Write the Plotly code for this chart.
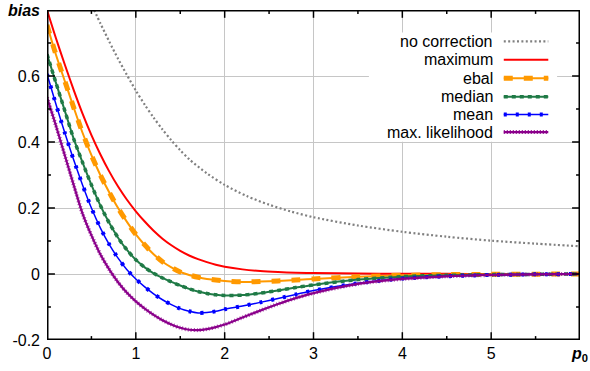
import plotly.graph_objects as go

# ---------------- data ----------------
x_nocorr = [0.53, 0.6, 0.7, 0.8, 0.9, 1.0, 1.1, 1.2, 1.3, 1.4, 1.5, 1.6, 1.8, 2.0, 2.25, 2.5, 2.75, 3.0, 3.5, 4.0, 4.5, 5.0, 5.5, 6.0]
y_nocorr = [0.80, 0.76, 0.705, 0.652, 0.603, 0.556, 0.513, 0.474, 0.438, 0.405, 0.375, 0.348, 0.305, 0.27, 0.236, 0.21, 0.189, 0.172, 0.147, 0.128, 0.113, 0.101, 0.092, 0.084]

x_grid = [0, 0.1, 0.2, 0.3, 0.4, 0.5, 0.6, 0.7, 0.8, 0.9, 1.0, 1.1, 1.2, 1.3, 1.4, 1.5, 1.6, 1.7, 1.8, 1.9, 2.0,
          2.2, 2.4, 2.6, 2.8, 3.0, 3.5, 4.0, 4.5, 5.0, 5.5, 6.0]

y_maximum = [0.80, 0.715, 0.635, 0.558, 0.486, 0.421, 0.363, 0.311, 0.265, 0.225, 0.19, 0.159, 0.131, 0.107, 0.087, 0.07, 0.056, 0.045, 0.036, 0.028, 0.022,
             0.014, 0.009, 0.006, 0.004, 0.003, 0.0015, 0.0008, 0.0004, 0.0002, 0.0001, 0.0]

y_ebal = [0.755, 0.665, 0.585, 0.505, 0.428, 0.36, 0.30, 0.248, 0.20, 0.158, 0.12, 0.088, 0.06, 0.037, 0.02, 0.006, -0.003, -0.010, -0.015, -0.018, -0.021,
          -0.024, -0.023, -0.021, -0.018, -0.015, -0.008, -0.004, -0.002, -0.001, -0.0005, 0.0]

y_median = [0.666, 0.58, 0.495, 0.41, 0.338, 0.27, 0.208, 0.155, 0.11, 0.073, 0.043, 0.02, 0.002, -0.012, -0.024, -0.035, -0.045, -0.053, -0.059, -0.063, -0.065,
            -0.064, -0.058, -0.05, -0.041, -0.033, -0.017, -0.008, -0.004, -0.002, -0.001, 0.0]

y_mean = [0.606, 0.515, 0.428, 0.346, 0.27, 0.2, 0.14, 0.09, 0.048, 0.013, -0.015, -0.039, -0.06, -0.078, -0.093, -0.105, -0.113, -0.118, -0.117, -0.113, -0.107,
          -0.097, -0.086, -0.074, -0.062, -0.05, -0.028, -0.014, -0.007, -0.003, -0.001, 0.0]

y_maxlik = [0.535, 0.45, 0.36, 0.27, 0.183, 0.117, 0.06, 0.014, -0.025, -0.057, -0.083, -0.105, -0.124, -0.14, -0.153, -0.163, -0.169, -0.170, -0.167, -0.161, -0.153,
            -0.132, -0.111, -0.091, -0.073, -0.058, -0.03, -0.015, -0.007, -0.003, -0.001, 0.0]

x_ticks = [0, 1, 2, 3, 4, 5, 6]
x_ticktext = ["0", "1", "2", "3", "4", "5", "<b><i>p</i><sub>0</sub></b>"]
y_ticks = [-0.2, 0, 0.2, 0.4, 0.6, 0.8]
y_ticktext = ["-0.2", "0", "0.2", "0.4", "0.6", "<b><i>bias</i></b>"]
x_minor_ticks = [0.5, 1.5, 2.5, 3.5, 4.5, 5.5]
y_minor_ticks = [-0.1, 0.1, 0.3, 0.5, 0.7]

legend_names = ["no correction", "maximum", "ebal", "median", "mean", "max. likelihood"]

# ---------------- layout geometry / styles ----------------
W, H = 590, 371
M = dict(l=47, r=5, t=2, b=31)
XR = [0, 6]
YR = [-0.2, 0.8]
FONT = "Liberation Sans, Arial, sans-serif"
GRAY = "#808080"
RED = "#ff0000"
ORANGE = "#ff9900"
GREEN = "#1f7a46"
BLUE = "#0000ff"
PURPLE = "#8b008b"

fig = go.Figure()

def add(x, y, color, width, dash="solid", opacity=1.0, shape="spline"):
    fig.add_trace(go.Scatter(x=x, y=y, mode="lines", showlegend=False, hoverinfo="skip",
                             opacity=opacity,
                             line=dict(color=color, width=width, dash=dash, shape=shape, smoothing=0.8)))

add(x_nocorr, y_nocorr, GRAY, 2.2, "2px,2.4px")
add(x_grid, y_maximum, RED, 2)
add(x_grid, y_ebal, ORANGE, 2)
add(x_grid, y_ebal, ORANGE, 5, "9px,11px")
add(x_grid, y_median, GREEN, 2)
add(x_grid, y_median, GREEN, 3.5, "4px,4px")
add(x_grid, y_mean, BLUE, 1.5)
add(x_grid, y_mean, BLUE, 4, "3px,9px")
add(x_grid, y_maxlik, PURPLE, 2.2)
add(x_grid, y_maxlik, PURPLE, 4, "1px,2px", 0.7)

# ---------------- border and inward ticks on all four sides (gnuplot style) ----------------
x_per_px = (XR[1] - XR[0]) / (W - M["l"] - M["r"])
y_per_px = (YR[1] - YR[0]) / (H - M["t"] - M["b"])

def tick_segments(vals, length_px):
    xs, ys = [], []
    for t in vals:
        for base, sign in ((YR[0], 1), (YR[1], -1)):
            xs += [t, t, None]
            ys += [base, base + sign * length_px * y_per_px, None]
    return xs, ys

def ytick_segments(vals, length_px):
    xs, ys = [], []
    for t in vals:
        for base, sign in ((XR[0], 1), (XR[1], -1)):
            ys += [t, t, None]
            xs += [base, base + sign * length_px * x_per_px, None]
    return xs, ys

for segs in (tick_segments(x_ticks, 8), tick_segments(x_minor_ticks, 4),
             ytick_segments(y_ticks, 8), ytick_segments(y_minor_ticks, 4)):
    add(segs[0], segs[1], "black", 1.5, shape="linear")
add([XR[0], XR[1], XR[1], XR[0], XR[0]], [YR[0], YR[0], YR[1], YR[1], YR[0]], "black", 3, shape="linear")

# ---------------- legend box (gnuplot style: text right, sample on the right) ----------------
shapes = [dict(type="rect", xref="paper", yref="paper", x0=0.604, x1=0.957, y0=0.601, y1=0.932,
               fillcolor="white", line=dict(width=0), layer="above")]
annotations = []
row_y = [0.905, 0.849, 0.793, 0.737, 0.683, 0.630]
samples = [
    [(GRAY, 2.2, "2px,2.4px")],
    [(RED, 2, "solid")],
    [(ORANGE, 2, "solid"), (ORANGE, 5, "9px,11px")],
    [(GREEN, 2, "solid"), (GREEN, 3.5, "4px,4px")],
    [(BLUE, 1.5, "solid"), (BLUE, 4, "3px,9px")],
    [(PURPLE, 2.2, "solid"), (PURPLE, 4, "1px,2px")],
]
for name, yy, samp in zip(legend_names, row_y, samples):
    annotations.append(dict(xref="paper", yref="paper", x=0.840, y=yy, text=name, showarrow=False,
                            xanchor="right", yanchor="middle",
                            font=dict(family=FONT, size=16, color="black")))
    for col, w, d in samp:
        shapes.append(dict(type="line", xref="paper", yref="paper", x0=0.857, x1=0.9405, y0=yy, y1=yy,
                           line=dict(color=col, width=w, dash=d), layer="above"))

axis_common = dict(
    showgrid=True, gridcolor="#c6c6c6", gridwidth=1,
    showline=False, ticks="", zeroline=False, ticklabeloverflow="allow",
    tickfont=dict(family=FONT, size=16, color="black"),
)

fig.update_layout(
    width=W, height=H,
    margin=M,
    paper_bgcolor="white", plot_bgcolor="white",
    showlegend=False,
    shapes=shapes, annotations=annotations,
    xaxis=dict(range=XR, tickmode="array", tickvals=x_ticks, ticktext=x_ticktext,
               ticklabelstandoff=2, **axis_common),
    yaxis=dict(range=YR, tickmode="array", tickvals=y_ticks, ticktext=y_ticktext,
               ticklabelstandoff=6, **axis_common),
)

fig.write_html("out.html")
